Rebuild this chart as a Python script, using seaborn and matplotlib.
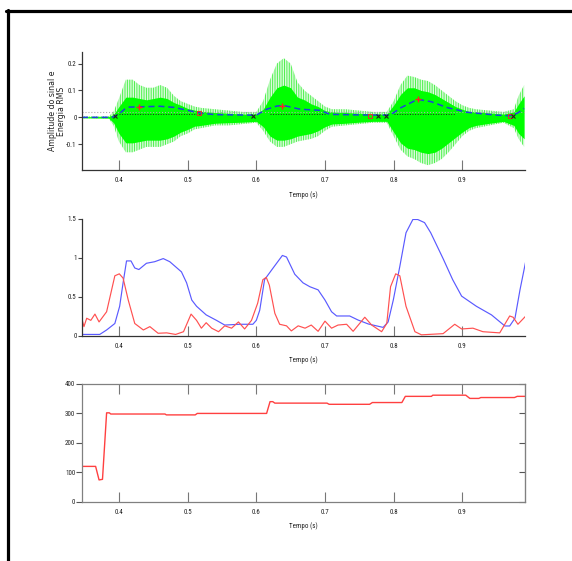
import matplotlib
matplotlib.use("Agg")
import matplotlib.pyplot as plt
from matplotlib.lines import Line2D
from matplotlib import font_manager
import seaborn as sns
import numpy as np

sns.set_style("white")
plt.rcParams["hatch.linewidth"] = 0.7

# pick a narrow font if one is installed
_fonts = [(f.name, f.stretch) for f in font_manager.fontManager.ttflist]
_names = {n for n, _ in _fonts}
narrow_family, narrow_stretch = "DejaVu Sans", "normal"
for cand in ["Liberation Sans Narrow", "Roboto Condensed", "Open Sans Condensed",
             "Noto Sans Condensed", "DejaVu Sans Condensed"]:
    if cand in _names:
        narrow_family = cand
        break
else:
    for fam in ["DejaVu Sans", "Roboto", "Noto Sans", "Open Sans", "Liberation Sans"]:
        if any(n == fam and str(s).lower() in ("condensed", "semi-condensed", "75", "87.5")
               for n, s in _fonts):
            narrow_family, narrow_stretch = fam, "condensed"
            break

# ---------------- data ----------------
xticks = [0.4, 0.5, 0.6, 0.7, 0.8, 0.9]
xtick_labels = ["0.4", "0.5", "0.6", "0.7", "0.8", "0.9"]

# top panel: signal envelope (outer light lines / inner dense core)
sig_t = [0.346, 0.385, 0.392, 0.400, 0.410, 0.420, 0.430, 0.440, 0.450, 0.460,
         0.470, 0.480, 0.490, 0.500, 0.510, 0.520, 0.540, 0.560, 0.580, 0.600,
         0.610, 0.620, 0.630, 0.640, 0.650, 0.660, 0.670, 0.680, 0.690, 0.700,
         0.710, 0.730, 0.750, 0.770, 0.790, 0.800, 0.810, 0.820, 0.830, 0.840,
         0.850, 0.860, 0.870, 0.880, 0.890, 0.900, 0.910, 0.920, 0.940, 0.960,
         0.975, 0.982, 0.990]
sig_outer_top = [0.003, 0.004, 0.02, 0.07, 0.14, 0.14, 0.12, 0.11, 0.11, 0.12,
                 0.11, 0.08, 0.06, 0.05, 0.04, 0.035, 0.03, 0.025, 0.02, 0.02,
                 0.06, 0.14, 0.20, 0.22, 0.20, 0.13, 0.10, 0.08, 0.06, 0.04,
                 0.03, 0.03, 0.025, 0.02, 0.02, 0.06, 0.12, 0.155, 0.15, 0.14,
                 0.135, 0.12, 0.10, 0.08, 0.06, 0.045, 0.035, 0.03, 0.025, 0.02,
                 0.03, 0.08, 0.12]
sig_outer_bot = [-0.003, -0.004, -0.03, -0.09, -0.13, -0.13, -0.12, -0.11, -0.11, -0.11,
                 -0.10, -0.09, -0.07, -0.06, -0.045, -0.04, -0.03, -0.03, -0.025, -0.02,
                 -0.05, -0.09, -0.11, -0.11, -0.10, -0.09, -0.085, -0.08, -0.07, -0.05,
                 -0.035, -0.03, -0.025, -0.02, -0.02, -0.07, -0.12, -0.145, -0.155, -0.17,
                 -0.178, -0.17, -0.155, -0.13, -0.10, -0.07, -0.05, -0.04, -0.03, -0.02,
                 -0.04, -0.08, -0.11]
sig_inner_top = [0.002, 0.003, 0.01, 0.04, 0.075, 0.075, 0.07, 0.065, 0.07, 0.075,
                 0.07, 0.055, 0.045, 0.033, 0.027, 0.022, 0.018, 0.015, 0.012, 0.012,
                 0.03, 0.075, 0.11, 0.12, 0.11, 0.075, 0.065, 0.05, 0.04, 0.025,
                 0.02, 0.018, 0.015, 0.012, 0.012, 0.045, 0.085, 0.11, 0.11, 0.10,
                 0.095, 0.085, 0.07, 0.055, 0.04, 0.03, 0.022, 0.02, 0.016, 0.012,
                 0.02, 0.05, 0.08]
sig_inner_bot = [-0.002, -0.003, -0.02, -0.06, -0.095, -0.095, -0.09, -0.085, -0.085, -0.085,
                 -0.08, -0.07, -0.055, -0.045, -0.033, -0.03, -0.022, -0.02, -0.018, -0.015,
                 -0.035, -0.07, -0.085, -0.085, -0.08, -0.07, -0.065, -0.06, -0.05, -0.035,
                 -0.025, -0.022, -0.018, -0.015, -0.015, -0.055, -0.095, -0.115, -0.12, -0.13,
                 -0.135, -0.13, -0.115, -0.095, -0.075, -0.055, -0.038, -0.03, -0.022, -0.015,
                 -0.03, -0.06, -0.08]

# top panel: RMS energy (blue dashed)
rms_t = [0.346, 0.390, 0.400, 0.408, 0.415, 0.430, 0.460, 0.480, 0.500, 0.520,
         0.540, 0.600, 0.615, 0.630, 0.640, 0.664, 0.693, 0.707, 0.750, 0.795,
         0.810, 0.835, 0.855, 0.877, 0.906, 0.950, 0.970, 0.980, 0.990]
rms_v = [0.0, 0.0, 0.012, 0.03, 0.038, 0.039, 0.041, 0.037, 0.026, 0.015,
         0.010, 0.008, 0.03, 0.042, 0.044, 0.03, 0.026, 0.011, 0.009, 0.008,
         0.035, 0.067, 0.058, 0.037, 0.019, 0.008, 0.006, 0.015, 0.033]

thr_gray_t = [0.3466, 0.9913]
thr_gray_v = [0.018, 0.018]
thr_black_segments = [(0.400, 0.520), (0.620, 0.700), (0.800, 0.890)]
thr_black_v = 0.014

peak_t = [0.429, 0.638, 0.835]
peak_v = [0.038, 0.042, 0.067]
end_t = [0.516, 0.765, 0.969]
end_v = [0.016, 0.005, 0.004]
start_t = [0.394, 0.595, 0.777, 0.789, 0.974]
start_v = [0.004, 0.005, 0.005, 0.004, 0.005]

# middle panel
blue_t = [0.346, 0.372, 0.382, 0.394, 0.401, 0.406, 0.411, 0.4175, 0.423, 0.429,
          0.440, 0.452, 0.4645, 0.474, 0.491, 0.4985, 0.506, 0.513, 0.527, 0.542,
          0.554, 0.576, 0.595, 0.600, 0.605, 0.612, 0.6245, 0.638, 0.644, 0.656,
          0.668, 0.678, 0.690, 0.700, 0.7096, 0.717, 0.736, 0.748, 0.763, 0.7847,
          0.792, 0.7995, 0.809, 0.818, 0.828, 0.835, 0.845, 0.854, 0.872, 0.886,
          0.899, 0.9205, 0.9425, 0.962, 0.969, 0.9767, 0.984, 0.9925]
blue_v = [0.02, 0.02, 0.077, 0.16, 0.38, 0.68, 0.96, 0.96, 0.87, 0.85,
          0.93, 0.95, 0.99, 0.95, 0.82, 0.68, 0.46, 0.38, 0.27, 0.20,
          0.14, 0.15, 0.15, 0.20, 0.33, 0.72, 0.87, 1.03, 1.01, 0.79,
          0.68, 0.63, 0.59, 0.46, 0.31, 0.256, 0.256, 0.205, 0.154, 0.11,
          0.18, 0.46, 0.89, 1.32, 1.49, 1.49, 1.45, 1.32, 0.99, 0.72,
          0.51, 0.38, 0.27, 0.128, 0.128, 0.227, 0.59, 0.96]

red_t = [0.3466, 0.349, 0.353, 0.359, 0.365, 0.371, 0.382, 0.394, 0.4005, 0.406,
         0.4135, 0.423, 0.4355, 0.445, 0.457, 0.4695, 0.4825, 0.494, 0.505, 0.513,
         0.520, 0.527, 0.535, 0.545, 0.554, 0.564, 0.574, 0.583, 0.593, 0.602,
         0.6095, 0.6145, 0.619, 0.627, 0.634, 0.644, 0.651, 0.661, 0.671, 0.680,
         0.690, 0.700, 0.7096, 0.719, 0.7315, 0.741, 0.758, 0.768, 0.7825, 0.790,
         0.7955, 0.803, 0.809, 0.818, 0.831, 0.8405, 0.872, 0.889, 0.899, 0.9155,
         0.930, 0.9545, 0.969, 0.974, 0.981, 0.9925]
red_v = [0.20, 0.12, 0.227, 0.20, 0.28, 0.18, 0.31, 0.77, 0.795, 0.74,
         0.46, 0.16, 0.077, 0.12, 0.035, 0.04, 0.02, 0.055, 0.28, 0.20,
         0.10, 0.17, 0.10, 0.055, 0.13, 0.10, 0.18, 0.09, 0.20, 0.42,
         0.72, 0.75, 0.65, 0.29, 0.15, 0.13, 0.065, 0.13, 0.10, 0.14,
         0.06, 0.19, 0.10, 0.14, 0.15, 0.06, 0.24, 0.14, 0.055, 0.16,
         0.63, 0.795, 0.77, 0.38, 0.055, 0.015, 0.03, 0.15, 0.09, 0.10,
         0.055, 0.04, 0.256, 0.24, 0.15, 0.256]

# bottom panel: pitch (Hz)
f0_t = [0.3466, 0.366, 0.371, 0.376, 0.382, 0.386, 0.388, 0.467, 0.469, 0.511,
        0.514, 0.615, 0.620, 0.624, 0.627, 0.703, 0.706, 0.765, 0.769, 0.812,
        0.817, 0.855, 0.857, 0.905, 0.911, 0.924, 0.927, 0.976, 0.980, 0.9913]
f0_v = [120, 120, 74, 76, 302, 302, 298, 298, 295, 295,
        300, 300, 340, 340, 335, 335, 331, 331, 337, 337,
        358, 358, 362, 362, 351, 351, 354, 354, 358, 358]

# ---------------- figure ----------------
W, H = 572, 561
fig = plt.figure(figsize=(W / 100, H / 100), dpi=100)
fig.patch.set_facecolor("white")

tick_font = dict(family=[narrow_family, "DejaVu Sans"], size=5, stretch=narrow_stretch)
xlim = (0.3466, 0.9913)

def style_axes(ax, full_box=False, spine_color="#333333"):
    ax.set_xlim(*xlim)
    ax.set_facecolor("white")
    for s in ["left", "bottom"]:
        ax.spines[s].set_color(spine_color)
        ax.spines[s].set_linewidth(0.9)
    for s in ["top", "right"]:
        ax.spines[s].set_visible(full_box)
        ax.spines[s].set_color(spine_color)
        ax.spines[s].set_linewidth(0.9)
    ax.set_xticks(xticks)
    ax.set_xticklabels(xtick_labels, fontdict=tick_font, color="#222222")
    ax.tick_params(axis="x", direction="in", length=7, width=0.8, color="#777777",
                   pad=5, top=full_box, bottom=True)
    ax.tick_params(axis="y", direction="out", length=3, width=0.8, color="#444444",
                   pad=1, left=True, right=False)
    ax.set_xlabel("Tempo (s)", fontdict=tick_font, color="#222222")
    ax.xaxis.set_label_coords(0.5, -0.175)
    ax.grid(False)

# --- top axes ---
ax1 = fig.add_axes([82.3 / W, 1 - 170 / H, (525 - 82.3) / W, 118 / H])
ax1.fill_between(sig_t, sig_outer_bot, sig_outer_top, facecolor="#dcfcdc",
                 edgecolor="#4cf04c", hatch="|" * 7, lw=0)
ax1.fill_between(sig_t, sig_inner_bot, sig_inner_top, color="#00ff00", lw=0)
sns.lineplot(x=thr_gray_t, y=thr_gray_v, ax=ax1, color="#aaaaaa", lw=0.8,
             linestyle=":", legend=False)
for a, b in thr_black_segments:
    sns.lineplot(x=[a, b], y=[thr_black_v, thr_black_v], ax=ax1, color="#222222",
                 lw=0.7, linestyle=":", legend=False)
sns.lineplot(x=rms_t, y=rms_v, ax=ax1, color="#1f3fe0", lw=1.1,
             linestyle=(0, (4, 2.5)), legend=False)
ax1.plot(peak_t, peak_v, linestyle="none", marker="+", color="#ff2020", ms=5, mew=1.0)
ax1.plot(end_t, end_v, linestyle="none", marker="s", mfc="none", mec="#e03030",
         ms=3.5, mew=0.8)
ax1.plot(start_t, start_v, linestyle="none", marker="x", color="#222222", ms=2.5, mew=0.8)
style_axes(ax1)
ax1.set_ylim(-0.196, 0.243)
ax1.set_yticks([-0.1, 0, 0.1, 0.2])
ax1.set_yticklabels(["-0.1", "0", "0.1", "0.2"], fontdict=tick_font, color="#222222")
ax1.set_ylabel("Amplitude do sinal e\nEnergia RMS", fontsize=5.6, color="#222222",
               family="DejaVu Sans", linespacing=0.95)
ax1.yaxis.set_label_coords(-0.037, 0.5)

# --- middle axes ---
ax2 = fig.add_axes([82.3 / W, 1 - 336 / H, (525 - 82.3) / W, (336 - 218.7) / H])
sns.lineplot(x=blue_t, y=blue_v, ax=ax2, color="#5a5aff", lw=0.85, legend=False)
sns.lineplot(x=red_t, y=red_v, ax=ax2, color="#ff5050", lw=0.85, legend=False)
style_axes(ax2)
ax2.set_ylim(0, 1.5)
ax2.set_yticks([0, 0.5, 1, 1.5])
ax2.set_yticklabels(["0", "0.5", "1", "1.5"], fontdict=tick_font, color="#222222")
ax2.set_ylabel("")

# --- bottom axes ---
ax3 = fig.add_axes([82.3 / W, 1 - 501.7 / H, (525 - 82.3) / W, (501.7 - 384) / H])
sns.lineplot(x=f0_t, y=f0_v, ax=ax3, color="#ff4040", lw=1.0, legend=False)
style_axes(ax3, full_box=True, spine_color="#808080")
ax3.tick_params(axis="y", length=4, color="#555555")
ax3.set_ylim(0, 400)
f0_ticks = [0, 100, 200, 300, 400]
ax3.set_yticks(f0_ticks)
ax3.set_yticklabels(["0", "100", "200", "300", "400"], fontdict=tick_font, color="#222222")
ax3.set_ylabel("")
sec = ax3.secondary_yaxis("right")
sec.set_yticks(f0_ticks)
sec.set_yticklabels([])
sec.tick_params(direction="in", length=4, width=0.8, color="#555555")
sec.spines["right"].set_color("#808080")

# frame lines
fig.add_artist(Line2D([6 / W, 1], [1 - 10.8 / H, 1 - 10.8 / H], transform=fig.transFigure,
                      color="black", lw=2.3))
fig.add_artist(Line2D([7.6 / W, 7.6 / W], [1 - 9.7 / H, 0], transform=fig.transFigure,
                      color="black", lw=2.3))

fig.savefig("out.png", dpi=100, facecolor="white")
